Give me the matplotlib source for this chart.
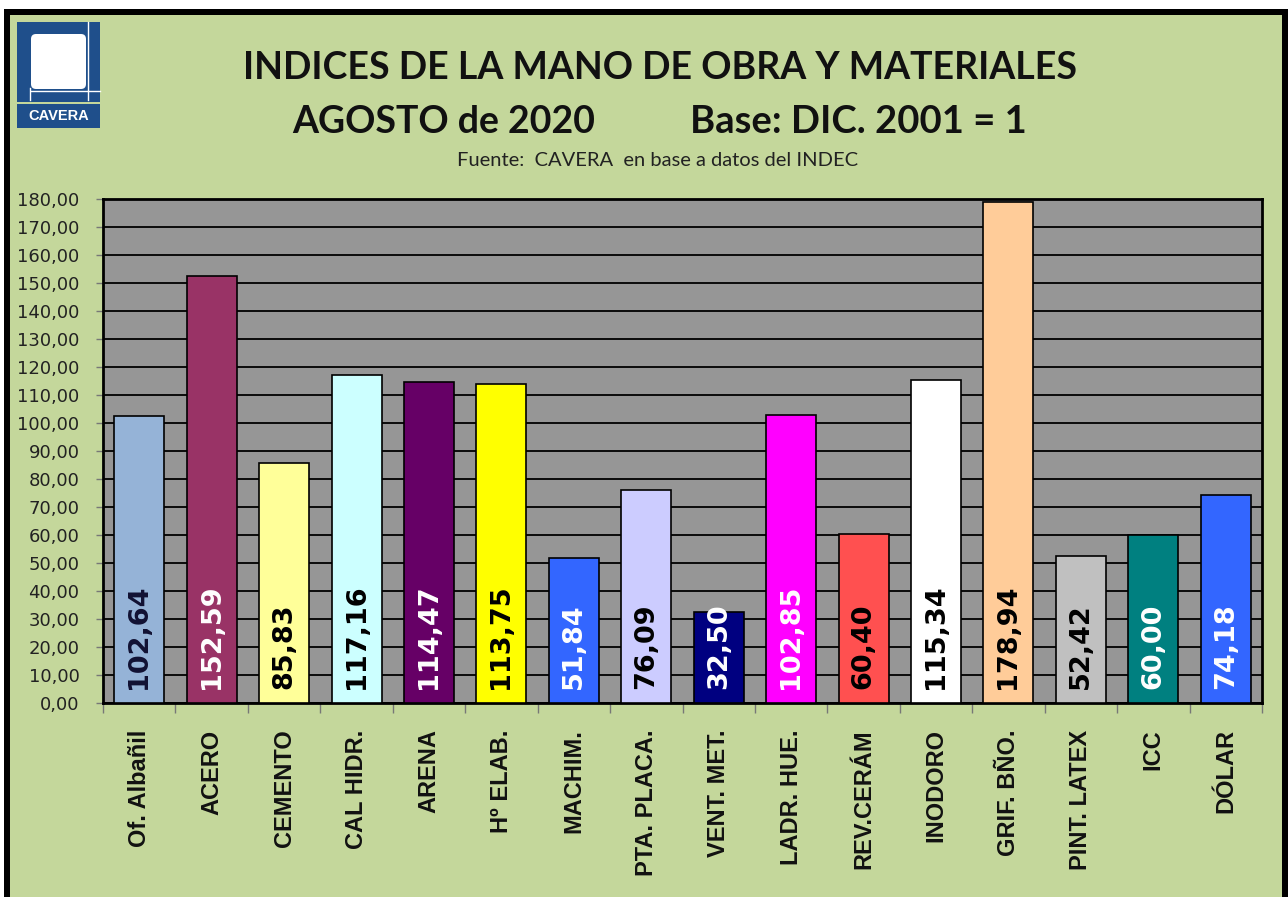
import matplotlib.pyplot as plt
from matplotlib.patches import Rectangle, FancyBboxPatch
import numpy as np

categorias = ['Of. Albañil', 'ACERO', 'CEMENTO', 'CAL HIDR.', 'ARENA', 'Hº ELAB.',
              'MACHIM.', 'PTA. PLACA.', 'VENT. MET.', 'LADR. HUE.', 'REV.CERÁM',
              'INODORO', 'GRIF. BÑO.', 'PINT. LATEX', 'ICC', 'DÓLAR']
valores = [102.64, 152.59, 85.83, 117.16, 114.47, 113.75, 51.84, 76.09,
           32.50, 102.85, 60.40, 115.34, 178.94, 52.42, 60.00, 74.18]
colores = ['#95B3D7', '#993366', '#FFFF99', '#CCFFFF', '#660066', '#FFFF00',
           '#3366FF', '#CCCCFF', '#000080', '#FF00FF', '#FF5050', '#FFFFFF',
           '#FFCC99', '#C0C0C0', '#008080', '#3366FF']
color_texto = ['#111133', 'white', 'black', 'black', 'white', 'black',
               'white', 'black', 'white', 'white', 'black', 'black',
               'black', 'black', 'white', 'white']
yticks = list(range(0, 181, 10))

W, H = 1288, 897
fig = plt.figure(figsize=(W / 100, H / 100), dpi=100)
fig.patch.set_facecolor('white')

# fondo: marco negro + verde, en coordenadas de pixel
bg = fig.add_axes([0, 0, 1, 1], zorder=-1)
bg.set_xlim(0, W)
bg.set_ylim(H, 0)
bg.axis('off')
bg.add_patch(Rectangle((4, 9), W - 4, H, facecolor='black', edgecolor='none'))
bg.add_patch(Rectangle((10, 15), 1272, H, facecolor='#C4D79B', edgecolor='none'))

# logo CAVERA
azul = '#1F4F8B'
bg.add_patch(Rectangle((17, 22), 83, 80, facecolor=azul, edgecolor='none'))
bg.add_patch(FancyBboxPatch((31, 34), 55, 55, boxstyle='round,pad=0,rounding_size=5',
                            facecolor='white', edgecolor='none'))
bg.plot([88, 88], [22, 100], color='white', lw=1)
bg.plot([31, 100], [91, 91], color='white', lw=1)
bg.plot([30, 30], [88, 100], color='white', lw=1)
bg.add_patch(Rectangle((17, 104), 83, 24, facecolor=azul, edgecolor='none'))
bg.text(58.5, 116.5, 'CAVERA', color='white', fontsize=10.5, fontweight='bold',
        family='Liberation Sans', ha='center', va='center')

# titulos
fig.text(660 / W, 1 - 68 / H, 'INDICES DE LA MANO DE OBRA Y MATERIALES',
         fontsize=27, fontweight='bold', family='Lato', ha='center', va='center',
         color='#111111')
fig.text(444 / W, 1 - 122 / H, 'AGOSTO de 2020', fontsize=27, fontweight='bold',
         family='Lato', ha='center', va='center', color='#111111')
fig.text(858 / W, 1 - 122 / H, 'Base: DIC. 2001 = 1', fontsize=27.5, fontweight='bold',
         family='Lato', ha='center', va='center', color='#111111')
fig.text(658 / W, 1 - 161 / H, 'Fuente:  CAVERA  en base a datos del INDEC',
         fontsize=14.5, family='Lato', ha='center', va='center', color='#222222')

# grafico
ax = fig.add_axes([103 / W, 1 - 703 / H, (1262 - 103) / W, (703 - 199) / H])
ax.set_facecolor('#969696')
x = np.arange(len(categorias))
ax.bar(x, valores, width=0.69, color=colores, edgecolor='black', linewidth=1.2, zorder=3)

for xi, v, c in zip(x, valores, color_texto):
    ax.text(xi, 5, f'{v:.2f}'.replace('.', ','), rotation=90, ha='center', va='bottom',
            fontsize=19.5, fontweight='bold', family='DejaVu Sans', color=c, zorder=4)

ax.set_xlim(-0.5, len(categorias) - 0.5)
ax.set_ylim(0, 180)
ax.set_yticks(yticks)
ax.set_yticklabels([f'{v:.2f}'.replace('.', ',') for v in yticks],
                   fontsize=13, family='DejaVu Sans', color='#222222')
ax.yaxis.grid(True, color='black', linewidth=1.3, zorder=1)
ax.set_axisbelow(True)
ax.tick_params(axis='y', length=5, width=1, color='#777777', pad=12)

ax.set_xticks(x)
ax.set_xticklabels(categorias, rotation=90, fontsize=17, fontweight='bold',
                   family='Liberation Sans', color='#111111')
ax.tick_params(axis='x', which='major', length=0, pad=19)
ax.set_xticks(np.arange(-0.5, len(categorias)), minor=True)
ax.tick_params(axis='x', which='minor', length=7, width=1, color='#777777')

for s in ax.spines.values():
    s.set_color('black')
    s.set_linewidth(2)

fig.savefig('out.png', dpi=100)
